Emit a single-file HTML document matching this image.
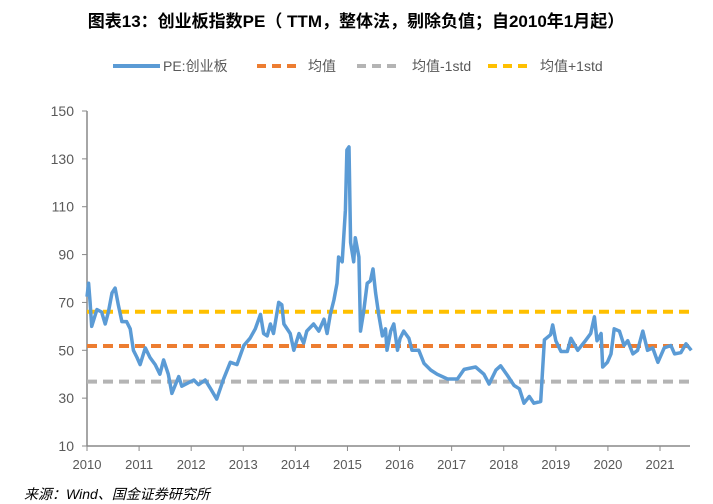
<!DOCTYPE html>
<html><head><meta charset="utf-8"><style>
body{margin:0;background:#fff;width:713px;height:504px;overflow:hidden;font-family:"Liberation Sans","Noto Sans CJK SC",sans-serif}
</style></head><body>
<svg width="713" height="504" style="position:absolute;left:0;top:0">
<text x="356" y="27" text-anchor="middle" font-size="17" font-weight="bold" fill="#000">图表13：创业板指数PE（ TTM，整体法，剔除负值；自2010年1月起）</text>
<g id="legend" font-size="14" fill="#595959">
<line x1="113" y1="66" x2="160" y2="66" stroke="#5b9bd5" stroke-width="4"/><text x="163" y="71">PE:创业板</text>
<line x1="257" y1="66" x2="302" y2="66" stroke="#ed7d31" stroke-width="4" stroke-dasharray="9,6"/><text x="308" y="71">均值</text>
<line x1="357" y1="66" x2="402" y2="66" stroke="#b4b4b4" stroke-width="4" stroke-dasharray="9,6"/><text x="412" y="71">均值-1std</text>
<line x1="488" y1="66" x2="533" y2="66" stroke="#ffc000" stroke-width="4" stroke-dasharray="9,6"/><text x="540" y="71">均值+1std</text>
</g>
<g id="axes"></g>
<g id="series"></g>
<text x="24" y="499" font-size="14" font-style="italic" fill="#000">来源：Wind、国金证券研究所</text>
</svg>
<script>
const yTicks=[10,30,50,70,90,110,130,150];
const xTicks=[2010,2011,2012,2013,2014,2015,2016,2017,2018,2019,2020,2021];
const dates=[2010.00,2010.03,2010.06,2010.09,2010.19,2010.28,2010.35,2010.41,2010.48,2010.54,2010.60,2010.67,2010.76,2010.83,2010.89,2010.96,2011.02,2011.12,2011.21,2011.31,2011.40,2011.47,2011.56,2011.63,2011.76,2011.82,2012.05,2012.14,2012.27,2012.37,2012.49,2012.62,2012.75,2012.88,2013.01,2013.13,2013.23,2013.33,2013.39,2013.46,2013.52,2013.58,2013.68,2013.74,2013.78,2013.90,2013.97,2014.07,2014.16,2014.22,2014.35,2014.45,2014.55,2014.61,2014.67,2014.74,2014.80,2014.83,2014.90,2014.96,2014.99,2015.03,2015.06,2015.12,2015.15,2015.22,2015.25,2015.31,2015.38,2015.44,2015.49,2015.54,2015.60,2015.67,2015.73,2015.76,2015.83,2015.89,2015.96,2016.01,2016.08,2016.18,2016.24,2016.37,2016.47,2016.60,2016.72,2016.92,2017.11,2017.24,2017.46,2017.62,2017.72,2017.85,2017.94,2018.07,2018.20,2018.30,2018.39,2018.49,2018.58,2018.71,2018.78,2018.90,2018.94,2019.00,2019.10,2019.22,2019.29,2019.42,2019.55,2019.67,2019.74,2019.79,2019.87,2019.90,2019.99,2020.06,2020.12,2020.22,2020.31,2020.38,2020.48,2020.57,2020.67,2020.76,2020.86,2020.96,2021.08,2021.21,2021.28,2021.40,2021.50,2021.60];
const peValues=[72.4,78,70,60,67,66,61,66,74,76,69,62,62,59,50,47,44,51,47,44,40,46,40,32,39,35,37.6,35.6,37.6,34,29.6,37.9,45,44,52,55,59,65,57,56,61,57,70,69,61,57,50,57,53,58,61,58,63,57,65,71,78,89,87,108.6,133.7,135,95,87,97,89,58,66,78,79,84,74,65,56,59,50,58,61,50,55,58,55,50,50,44.5,41.7,40,38,38,42,43,40,35.9,41.7,43.5,39.5,35.3,33.9,27.9,30.7,27.9,28.6,54.4,56.5,60.6,54,49.5,49.5,55,50,53.5,57,64,54,57,43,45,48.5,59,58,52,54,48.5,50,58,50,51,45,51,52,48.5,49,52.7,50];
const meanValue=51.8, minusStd=36.9, plusStd=66.1;
const X0=87,X1=690,Y0=446,Y1=111;
const xs=v=>X0+(v-2010)*(660-87)/11;
const ys=v=>Y0-(v-10)*(Y0-Y1)/140;
const NS='http://www.w3.org/2000/svg';
function mk(t,a,p){const e=document.createElementNS(NS,t);for(const k in a)e.setAttribute(k,a[k]);p.appendChild(e);return e;}
const ax=document.getElementById('axes');
let l=mk('line',{x1:X0,y1:Y1,x2:X0,y2:Y0,stroke:'#898989','stroke-width':1.5},ax);


l=mk('line',{x1:X0,y1:Y0,x2:X1,y2:Y0,stroke:'#898989','stroke-width':1.5},ax);


yTicks.forEach(v=>{mk('line',{x1:X0-5,y1:ys(v),x2:X0,y2:ys(v),stroke:'#898989'},ax);
const t=mk('text',{x:74,y:ys(v)+5,'text-anchor':'end','font-size':14,fill:'#595959'},ax);t.textContent=v;

});
xTicks.forEach(v=>{mk('line',{x1:xs(v),y1:Y0,x2:xs(v),y2:Y0+5,stroke:'#898989'},ax);
const t=mk('text',{x:xs(v),y:Y0+23,'text-anchor':'middle','font-size':13,fill:'#595959'},ax);t.textContent=v;

});
const sg=document.getElementById('series');
[[meanValue,'#ed7d31','mean-line'],[minusStd,'#b4b4b4','mean-minus-std-line'],[plusStd,'#ffc000','mean-plus-std-line']].forEach(([v,c,n])=>{
const e=mk('line',{x1:X0,y1:ys(v),x2:X1,y2:ys(v),stroke:c,'stroke-width':4,'stroke-dasharray':'10,6'},sg);

});
const p=mk('polyline',{points:dates.map((d,i)=>xs(d).toFixed(1)+','+ys(peValues[i]).toFixed(1)).join(' '),fill:'none',stroke:'#5b9bd5','stroke-width':3.5,'stroke-linejoin':'round'},sg);


</script>
</body></html>
